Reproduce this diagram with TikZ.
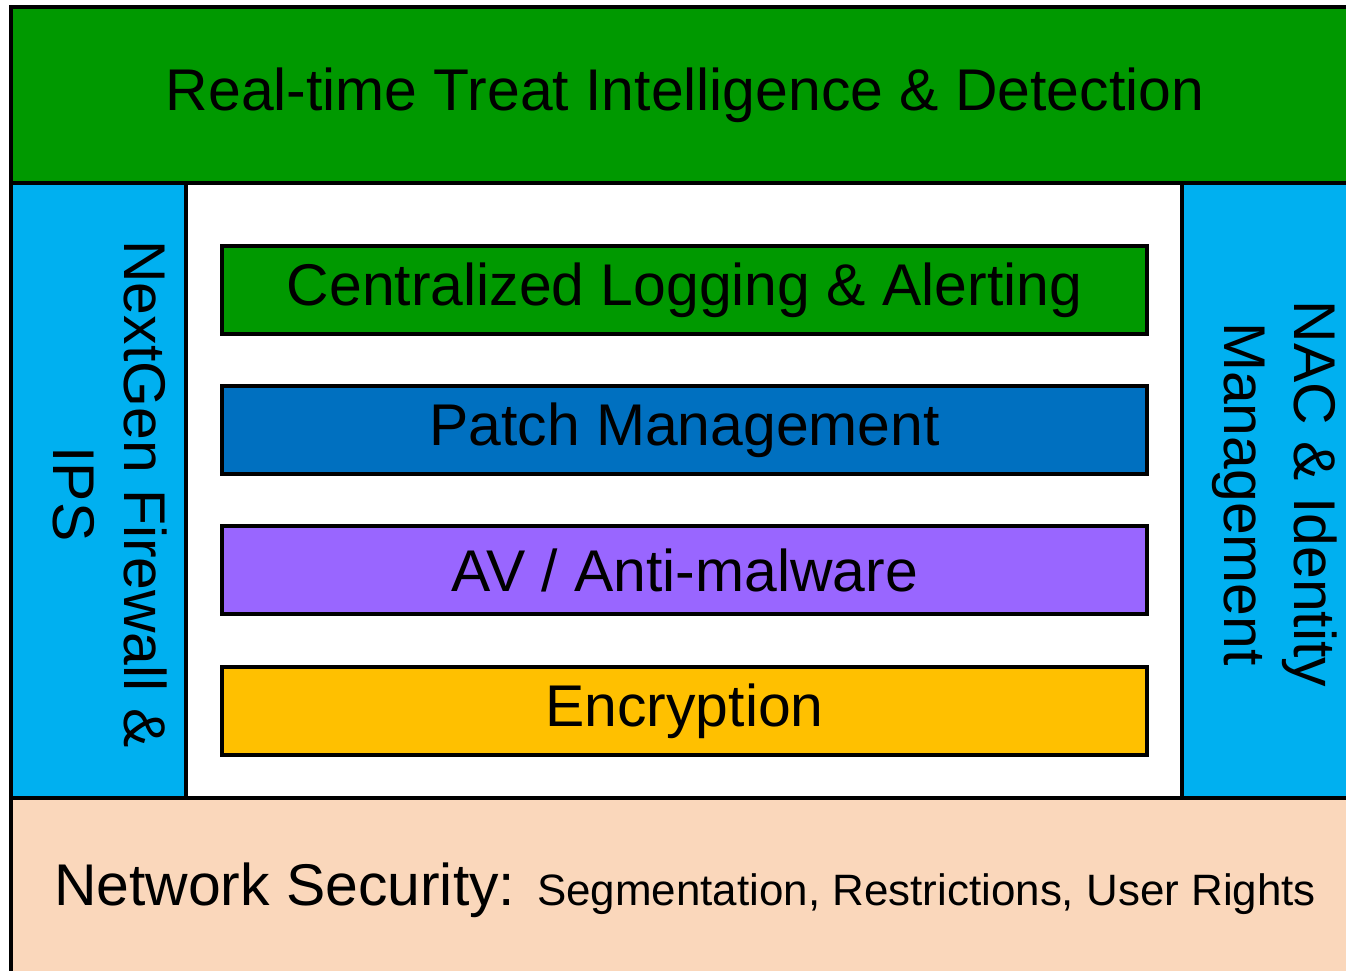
\documentclass[tikz,border=0pt]{standalone}
\usepackage{fontspec}
\setmainfont{Liberation Sans}
\definecolor{bandgreen}{HTML}{009900}
\definecolor{sideblue}{HTML}{00B0F0}
\definecolor{patchblue}{HTML}{0070C0}
\definecolor{avpurple}{HTML}{9966FF}
\definecolor{encyellow}{HTML}{FFC000}
\definecolor{netpeach}{HTML}{FAD7BB}
\tikzset{
  layer/.style={rectangle, draw=black, line width=1.8pt, inner sep=0pt, font=\fontsize{33.5}{40}\selectfont},
  innerlayer/.style={layer, minimum width=18.5cm, minimum height=1.76cm},
  sidetext/.style={rotate=-90, align=center, font=\fontsize{33.5}{40}\selectfont},
}
\begin{document}
\begin{tikzpicture}
    \useasboundingbox (0,0) rectangle (26.92,-19.42);
    \clip (0,0) rectangle (26.92,-19.42);
    \node[layer, fill=bandgreen, minimum width=26.96cm, minimum height=3.52cm] (threat) at (13.70,-1.90) {Real-time Treat Intelligence \& Detection};
    \node[layer, fill=sideblue, minimum width=3.5cm, minimum height=12.3cm] (fw) at (1.97,-9.81) {};
    \node[layer, fill=sideblue, minimum width=3.54cm, minimum height=12.3cm] (nac) at (25.41,-9.81) {};
    \node[layer, fill=netpeach, minimum width=26.96cm, minimum height=3.68cm] (net) at (13.70,-17.80) {Network Security: {\fontsize{25}{30}\selectfont Segmentation, Restrictions, User Rights}};
    \node[sidetext] (fwtext) at (2.2,-9.88) {NextGen Firewall \&\\IPS};
    \node[sidetext] (nactext) at (25.5,-9.88) {NAC \& Identity\\Management};
    \node[innerlayer, fill=bandgreen] (log) at (13.69,-5.80) {Centralized Logging \& Alerting};
    \node[innerlayer, fill=patchblue] (patch) at (13.69,-8.60) {Patch Management};
    \node[innerlayer, fill=avpurple] (av) at (13.69,-11.40) {AV / Anti-malware};
    \node[innerlayer, fill=encyellow] (enc) at (13.69,-14.22) {Encryption};
\end{tikzpicture}
\end{document}
